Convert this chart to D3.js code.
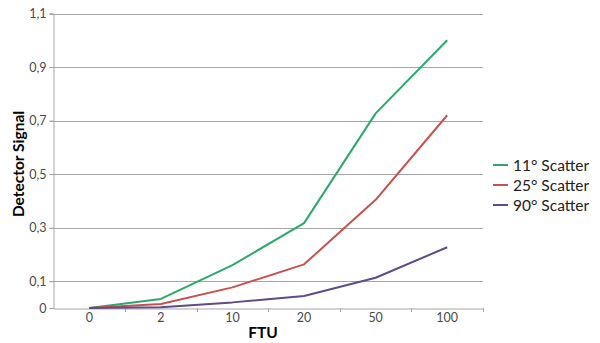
<!DOCTYPE html>
<html><head><meta charset="utf-8">
<script src="https://cdn.jsdelivr.net/npm/d3@7"></script>
<style>body{margin:0;background:#fff}svg{display:block}</style>
</head><body><svg id="c" width="600" height="343"></svg>
<script>
const categories = ["0","2","10","20","50","100"];
const s11 = [0, 0.034, 0.16, 0.317, 0.727, 1.0];
const s25 = [0, 0.015, 0.077, 0.163, 0.404, 0.72];
const s90 = [0, 0.003, 0.021, 0.045, 0.113, 0.227];
const seriesNames = ["11° Scatter","25° Scatter","90° Scatter"];
const seriesColors = ["#2aa96b","#c8504d","#5f4a8a"];
const yTicks = [0, 0.1, 0.3, 0.5, 0.7, 0.9, 1.1];
const series = [s11, s25, s90];

const svg = d3.select("#c");
const L = 53.5, R = 483, T = 13.5, B = 308;
const x = d3.scaleBand().domain(categories).range([L, R]);
const y = d3.scaleLinear().domain([0, 1.1]).range([B, T]);
const font = "Lato, 'Open Sans', sans-serif";

// gridlines
svg.append("g").selectAll("line").data(yTicks.filter(d=>d>0)).join("line")
  .attr("x1", L-4).attr("x2", R).attr("y1", d=>Math.round(y(d))+0.5).attr("y2", d=>Math.round(y(d))+0.5)
  .attr("stroke", "#a6a6a6").attr("stroke-width", 1);

// y axis
const yAxis = svg.append("g").attr("transform", `translate(${L},0)`)
  .call(d3.axisLeft(y).tickValues(yTicks).tickSize(4).tickFormat(d => d3.format(".1f")(d).replace(".", ",").replace(/^0,0$/, "0")));
yAxis.select(".domain").attr("stroke", "#a6a6a6");
yAxis.selectAll(".tick line").attr("stroke", "#a6a6a6");
yAxis.selectAll(".tick text").attr("fill", "#4a4a4a").style("font-family", font).style("font-size", "12.5px").attr("x", -7);

// x axis
const xAxis = svg.append("g").attr("transform", `translate(0,${Math.round(B)+0.5})`)
  .call(d3.axisBottom(x).tickSize(0).tickPadding(5));
xAxis.select(".domain").attr("stroke", "#a6a6a6");
xAxis.selectAll(".tick text").attr("fill", "#4a4a4a").style("font-family", font).style("font-size", "12.5px");
// boundary tick marks
svg.append("g").selectAll("line").data(categories.slice(1).concat(["end"])).join("line")
  .attr("x1", (d,i)=> Math.round(L + x.step()*(i+1))+0.5).attr("x2", (d,i)=> Math.round(L + x.step()*(i+1))+0.5)
  .attr("y1", B).attr("y2", B+4).attr("stroke", "#a6a6a6");

// lines
const line = d3.line().x((d,i)=>x(categories[i]) + x.bandwidth()/2).y(d=>y(d));
svg.append("g").selectAll("path").data(series).join("path")
  .attr("d", d=>line(d)).attr("fill","none")
  .attr("stroke", (d,i)=>seriesColors[i]).attr("stroke-width", 2).attr("stroke-linejoin","round");

// axis titles
svg.append("text").attr("x", 263).attr("y", 338).attr("text-anchor","middle")
  .style("font-family", font).style("font-weight","bold").style("font-size","15.5px").attr("fill","#000").text("FTU");
svg.append("text").attr("transform", "translate(24,164) rotate(-90)").attr("text-anchor","middle")
  .style("font-family", font).style("font-weight","bold").style("font-size","15.5px").attr("fill","#000").text("Detector Signal");

// legend
const lg = svg.append("g").selectAll("g").data(seriesNames).join("g")
  .attr("transform", (d,i)=>`translate(493,${165 + i*20})`);
lg.append("line").attr("x1",0).attr("x2",15).attr("y1",0).attr("y2",0)
  .attr("stroke",(d,i)=>seriesColors[i]).attr("stroke-width",2);
lg.append("text").attr("x",20).attr("y",5.5).text(d=>d)
  .style("font-family", font).style("font-size","15.5px").attr("fill","#222");
</script></body></html>
